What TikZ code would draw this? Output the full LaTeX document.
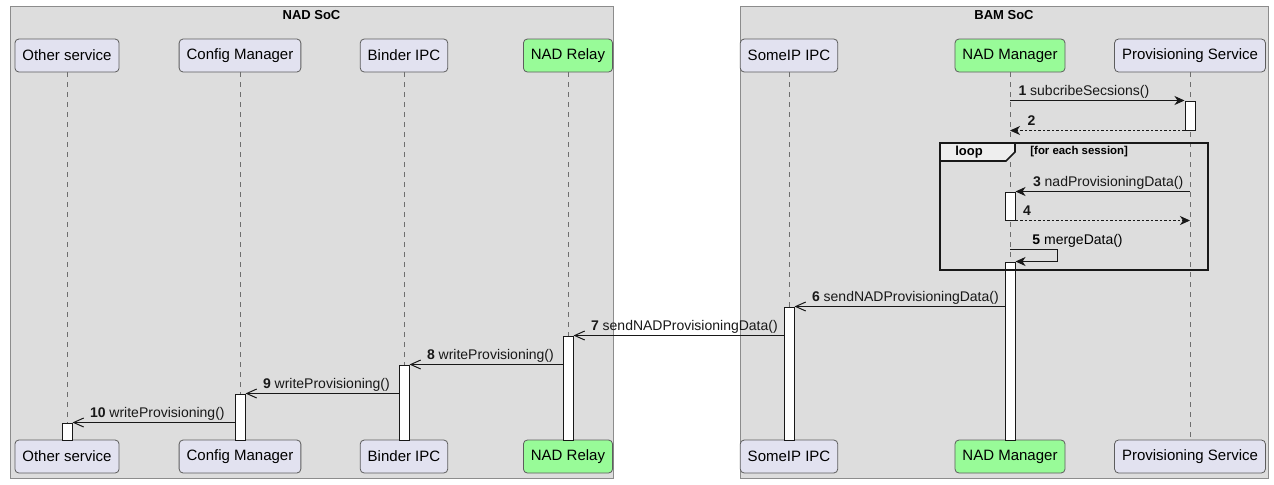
\documentclass[tikz,border=0pt]{standalone}
\usepackage{fontspec}
\setmainfont{Liberation Sans}
\usetikzlibrary{arrows.meta,fit}
\definecolor{groupgray}{HTML}{DDDDDD}
\definecolor{groupedge}{HTML}{8C8C8C}
\definecolor{lavender}{HTML}{E2E2F0}
\definecolor{relaygreen}{HTML}{98FB98}
\definecolor{inkline}{HTML}{181818}
\definecolor{lifegray}{HTML}{6E6E6E}
\definecolor{tabgray}{HTML}{EEEEEE}

\begin{document}
\begin{tikzpicture}[x=0.5pt,y=-0.5pt,
  part/.style={draw=inkline!70, fill=lavender, rounded corners=2pt, line width=0.4pt,
    minimum height=16.5pt, inner xsep=3.75pt, inner ysep=0pt, font=\fontsize{7.5}{9}\selectfont},
  relay/.style={part, fill=relaygreen},
  life/.style={lifegray, line width=0.5pt, dash pattern=on 2.5pt off 2.5pt},
  act/.style={draw=inkline, fill=white, line width=0.5pt, inner sep=0pt},
  call/.style={inkline, line width=0.5pt, -{Stealth[length=5pt,width=4.5pt,inset=1.5pt]}},
  reply/.style={call, dash pattern=on 1.25pt off 1pt},
  send/.style={inkline, line width=0.5pt, -{Straight Barb[length=5pt,width=4.5pt]}},
  lbl/.style={font=\fontsize{7}{8}\selectfont, inner sep=0pt, anchor=base west, yshift=2.5pt},
  grp/.style={fill=groupgray, draw=groupedge, line width=0.5pt},
  title/.style={font=\fontsize{6.5}{8}\selectfont\bfseries, inner sep=0pt}]
  \fill[white] (0,0) rectangle (1274,484);
  \useasboundingbox (0,0) rectangle (1274,484);

  % SoC groups
  \draw[grp] (10,6) rectangle (613,478);
  \node[title] (tNAD) at (311.5,15) {NAD SoC};
  \draw[grp] (740,6) rectangle (1268,478);
  \node[title] (tBAM) at (1004,15) {BAM SoC};

  % participants, top and bottom
  \node[part]  (pOS) at (67,55.5)   {Other service};
  \node[part]  (pCM) at (240,55.5)  {Config Manager};
  \node[part]  (pBI) at (404,55.5)  {Binder IPC};
  \node[relay] (pNR) at (568,55.5)  {NAD Relay};
  \node[part]  (pSI) at (789,55.5)  {SomeIP IPC};
  \node[relay] (pNM) at (1010,55.5) {NAD Manager};
  \node[part]  (pPS) at (1190,55.5) {Provisioning Service};

  \node[part]  (bOS) at (67,456.5)   {Other service};
  \node[part]  (bCM) at (240,456.5)  {Config Manager};
  \node[part]  (bBI) at (404,456.5)  {Binder IPC};
  \node[relay] (bNR) at (568,456.5)  {NAD Relay};
  \node[part]  (bSI) at (789,456.5)  {SomeIP IPC};
  \node[relay] (bNM) at (1010,456.5) {NAD Manager};
  \node[part]  (bPS) at (1190,456.5) {Provisioning Service};

  \foreach \p in {OS,CM,BI,NR,SI,NM,PS}
    \draw[life] (p\p.south) -- (b\p.north);

  % activations
  \node[act, fit={(1185,101) (1195,130)}] (aPS) {};
  \node[act, fit={(1005,192) (1015,220)}] (aNM1) {};
  \node[act, fit={(1005,262) (1015,440)}] (aNM2) {};
  \node[act, fit={(784,307) (794,440)}] (aSI) {};
  \node[act, fit={(563,336) (573,440)}] (aNR) {};
  \node[act, fit={(399,365) (409,440)}] (aBI) {};
  \node[act, fit={(235,394) (245,440)}] (aCM) {};
  \node[act, fit={(62,423) (72,440)}] (aOS) {};

  % loop frame
  \draw[inkline, line width=0.8pt] (940,143) rectangle (1208,270);
  \filldraw[fill=tabgray, draw=inkline, line width=0.8pt]
    (940,143) -- (1015,143) -- (1015,152) -- (1006,161) -- (940,161) -- cycle;
  \node[title] (loopTag) at (969,152) {loop};
  \node[title, anchor=west, font=\fontsize{5.7}{7}\selectfont\bfseries] (loopGuard) at (1030,152) {[for each session]};

  % messages
  \draw[call] (pNM.south |- aPS.north west) -- (aPS.north west)
    node[lbl, pos=0, xshift=4pt] {\textbf{1} subcribeSecsions()};
  \draw[reply] (aPS.south west) -- (pNM.south |- aPS.south west)
    node[lbl, pos=1, xshift=8.5pt] {\textbf{2}};
  \draw[call] (pPS.south |- aNM1.north east) -- (aNM1.north east)
    node[lbl, pos=1, xshift=8.5pt] {\textbf{3} nadProvisioningData()};
  \draw[reply] (aNM1.south east) -- (pPS.south |- aNM1.south east)
    node[lbl, pos=0, xshift=3.5pt] {\textbf{4}};
  \coordinate (m5) at (1057,249);
  \draw[call] (pNM.south |- m5) -- (m5) |- (aNM2.north east);
  \node[lbl] (l5) at ([xshift=11pt]pNM.south |- m5) {\textbf{5} mergeData()};
  \draw[send] (aNM2.west |- aSI.north east) -- (aSI.north east)
    node[lbl, pos=1, xshift=8.5pt] {\textbf{6} sendNADProvisioningData()};
  \draw[send] (aSI.west |- aNR.north east) -- (aNR.north east)
    node[lbl, pos=1, xshift=8.5pt] {\textbf{7} sendNADProvisioningData()};
  \draw[send] (aNR.west |- aBI.north east) -- (aBI.north east)
    node[lbl, pos=1, xshift=8.5pt] {\textbf{8} writeProvisioning()};
  \draw[send] (aBI.west |- aCM.north east) -- (aCM.north east)
    node[lbl, pos=1, xshift=8.5pt] {\textbf{9} writeProvisioning()};
  \draw[send] (aCM.west |- aOS.north east) -- (aOS.north east)
    node[lbl, pos=1, xshift=8.5pt] {\textbf{10} writeProvisioning()};
\end{tikzpicture}
\end{document}
